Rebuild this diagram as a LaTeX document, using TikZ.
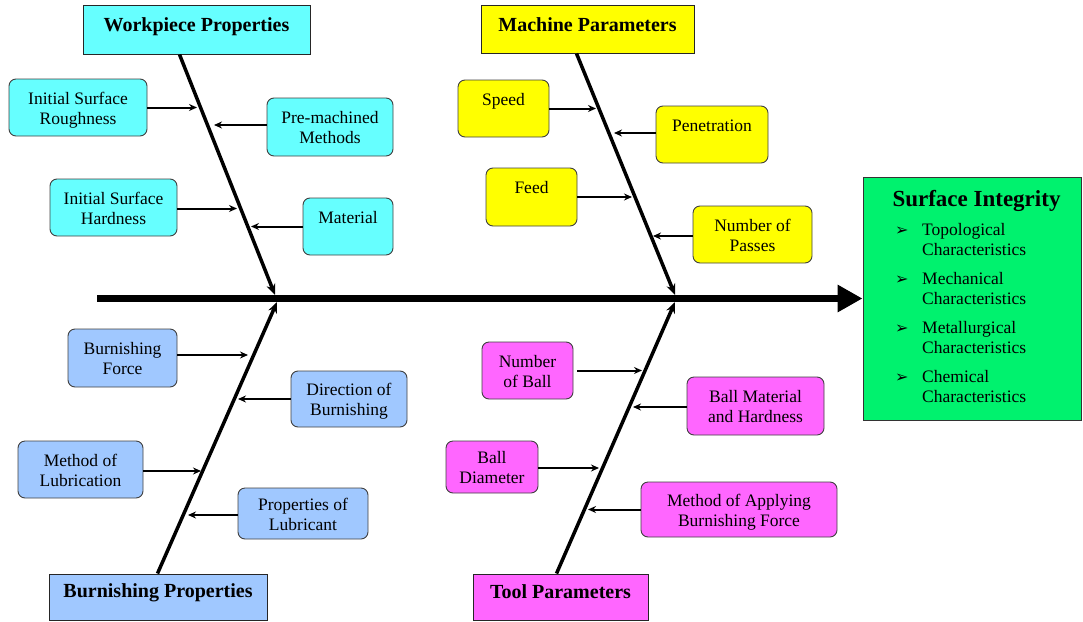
\documentclass[tikz,border=0pt]{standalone}
\usepackage{fontspec}
\setmainfont{Liberation Serif}
\newfontfamily\symfont{DejaVu Sans}
\usetikzlibrary{arrows.meta}
\definecolor{cyanbox}{RGB}{102,255,255}
\definecolor{yellowbox}{RGB}{255,255,0}
\definecolor{bluebox}{RGB}{160,200,255}
\definecolor{magbox}{RGB}{255,102,255}
\definecolor{greenbox}{RGB}{0,242,110}
\newcommand\boxtxt[1]{\raisebox{-2.5pt}[\height][\depth]{\begin{tabular}{@{}c@{}}#1\end{tabular}}}
\newcommand\bul{\makebox[27pt][l]{\symfont\fontsize{16}{16}\selectfont ➢}}
\begin{document}
\begin{tikzpicture}[x=1pt,y=-1pt,
  sidebox/.style={draw=black!75, line width=0.9pt, rounded corners=7pt,
    font=\fontsize{17.5}{20}\selectfont, inner sep=0pt},
  titlebox/.style={draw=black!85, line width=1pt, font=\fontsize{20}{24}\selectfont\bfseries,
    inner xsep=0pt, inner ysep=0pt, anchor=base},
  bone/.style={line width=3.5pt, -{Stealth[length=11pt,width=9pt]}},
  twig/.style={line width=2pt, -{Stealth[length=8pt,width=7pt]}},
  itemtext/.style={font=\fontsize{17.5}{20}\selectfont, inner sep=0pt, anchor=base west},
]
\useasboundingbox (0,0) rectangle (1083,621);

% ---------- title boxes ----------
\node[titlebox, fill=cyanbox, minimum width=227pt, text height=26.5pt, text depth=22.5pt] (wp) at (196.5,31.5) {Workpiece Properties};
\node[titlebox, fill=yellowbox, minimum width=213pt, text height=26.5pt, text depth=21.5pt] (mp) at (587.5,31.5) {Machine Parameters};
\node[titlebox, fill=bluebox, minimum width=218pt, text height=23.5pt, text depth=22.5pt] (bp) at (158,597.5) {Burnishing Properties};
\node[titlebox, fill=magbox, minimum width=175pt, text height=24.5pt, text depth=21.5pt] (tp) at (560.5,598.5) {Tool Parameters};

% ---------- side boxes ----------
\node[sidebox, fill=cyanbox, minimum width=138pt, minimum height=57pt] (rough) at (78,107.5) {\boxtxt{Initial Surface\\Roughness}};
\node[sidebox, fill=cyanbox, minimum width=126pt, minimum height=58pt] (premach) at (330,127) {\boxtxt{Pre-machined\\Methods}};
\node[sidebox, fill=cyanbox, minimum width=127pt, minimum height=57pt] (hard) at (113.5,207.5) {\boxtxt{Initial Surface\\Hardness}};
\node[sidebox, fill=cyanbox, minimum width=90pt, minimum height=57pt] (mat) at (348,226.5) {\boxtxt{Material\\~}};

\node[sidebox, fill=yellowbox, minimum width=91pt, minimum height=57pt] (speed) at (503.5,108.5) {\boxtxt{Speed\\~}};
\node[sidebox, fill=yellowbox, minimum width=112pt, minimum height=57pt] (pen) at (712,134.5) {\boxtxt{Penetration\\~}};
\node[sidebox, fill=yellowbox, minimum width=91pt, minimum height=58pt] (feed) at (531.5,197) {\boxtxt{Feed\\~}};
\node[sidebox, fill=yellowbox, minimum width=119pt, minimum height=57pt] (passes) at (752.5,234.5) {\boxtxt{Number of\\Passes}};

\node[sidebox, fill=bluebox, minimum width=109pt, minimum height=58pt] (bforce) at (122.5,358) {\boxtxt{Burnishing\\Force}};
\node[sidebox, fill=bluebox, minimum width=116pt, minimum height=56pt] (dirb) at (349,399) {\boxtxt{Direction of\\Burnishing}};
\node[sidebox, fill=bluebox, minimum width=125pt, minimum height=57pt] (mlub) at (80.5,469.5) {\boxtxt{Method of\\Lubrication}};
\node[sidebox, fill=bluebox, minimum width=130pt, minimum height=51pt] (plub) at (303,513.5) {\boxtxt{Properties of\\Lubricant}};

\node[sidebox, fill=magbox, minimum width=91pt, minimum height=57pt] (nball) at (527.5,370.5) {\boxtxt{Number\\of Ball}};
\node[sidebox, fill=magbox, minimum width=137pt, minimum height=58pt] (bmat) at (755.5,406) {\boxtxt{Ball Material\\and Hardness}};
\node[sidebox, fill=magbox, minimum width=92pt, minimum height=52pt] (bdia) at (492,467) {\boxtxt{Ball\\Diameter}};
\node[sidebox, fill=magbox, minimum width=196pt, minimum height=55pt] (mapp) at (739,509.5) {\boxtxt{Method of Applying\\Burnishing Force}};

% ---------- effect box ----------
\node[draw=black!80, line width=1pt, fill=greenbox, minimum width=218pt, minimum height=243pt, inner sep=0pt] (si) at (972,298.5) {};
\node[font=\fontsize{23}{26}\selectfont\bfseries, inner sep=0pt, anchor=base] (sititle) at (976.5,206) {Surface Integrity};
\node[itemtext] (i1a) at (895,235) {\bul Topological};
\node[itemtext] (i1b) at (922,255) {Characteristics};
\node[itemtext] (i2a) at (895,284) {\bul Mechanical};
\node[itemtext] (i2b) at (922,304) {Characteristics};
\node[itemtext] (i3a) at (895,333) {\bul Metallurgical};
\node[itemtext] (i3b) at (922,353) {Characteristics};
\node[itemtext] (i4a) at (895,382) {\bul Chemical};
\node[itemtext] (i4b) at (922,402) {Characteristics};

% ---------- spine ----------
\coordinate (sstart) at (97,298.5);
\draw[line width=6.5pt, -{Triangle[length=25pt,width=26pt]}] (sstart) -- (si.west);

% ---------- bones ----------
\coordinate (wtip) at (275,295);
\coordinate (mtip) at (675,295);
\coordinate (btip) at (277,302);
\coordinate (ttip) at (675,302);
\draw[bone] ([xshift=97pt]wp.south west) -- (wtip);
\draw[bone] ([xshift=96pt]mp.south west) -- (mtip);
\draw[bone] ([xshift=109pt]bp.north west) -- (btip);
\draw[bone] ([xshift=84pt]tp.north west) -- (ttip);

% ---------- twigs ----------
\coordinate (e1) at (197,0);  \coordinate (e2) at (214,0);
\coordinate (e3) at (237,0);  \coordinate (e4) at (251,0);
\draw[twig] (rough.east) -- (rough.east -| e1);
\draw[twig] ([yshift=2pt]premach.west) -- ([yshift=2pt]premach.west -| e2);
\draw[twig] ([yshift=-1pt]hard.east) -- ([yshift=-1pt]hard.east -| e3);
\draw[twig] (mat.west) -- (mat.west -| e4);

\coordinate (e5) at (596,0);  \coordinate (e6) at (614,0);
\coordinate (e7) at (632,0);  \coordinate (e8) at (653,0);
\draw[twig] (speed.east) -- (speed.east -| e5);
\draw[twig] ([yshift=1.5pt]pen.west) -- ([yshift=1.5pt]pen.west -| e6);
\draw[twig] (feed.east) -- (feed.east -| e7);
\draw[twig] ([yshift=-1.5pt]passes.west) -- ([yshift=-1.5pt]passes.west -| e8);

\coordinate (e9) at (248,0);  \coordinate (e10) at (238,0);
\coordinate (e11) at (201,0); \coordinate (e12) at (188,0);
\draw[twig] ([yshift=3pt]bforce.east) -- ([yshift=3pt]bforce.east -| e9);
\draw[twig] (dirb.west) -- (dirb.west -| e10);
\draw[twig] ([yshift=-1.5pt]mlub.east) -- ([yshift=-1.5pt]mlub.east -| e11);
\draw[twig] ([yshift=-1.5pt]plub.west) -- ([yshift=-1.5pt]plub.west -| e12);

\coordinate (e13) at (642,0); \coordinate (e14) at (633,0);
\coordinate (e15) at (599,0); \coordinate (e16) at (588,0);
\draw[twig, shorten <=4pt] (nball.east) -- (nball.east -| e13);
\draw[twig] ([yshift=-1pt]bmat.west) -- ([yshift=-1pt]bmat.west -| e14);
\draw[twig] ([yshift=-1pt]bdia.east) -- ([yshift=-1pt]bdia.east -| e15);
\draw[twig] (mapp.west) -- (mapp.west -| e16);
\end{tikzpicture}
\end{document}
